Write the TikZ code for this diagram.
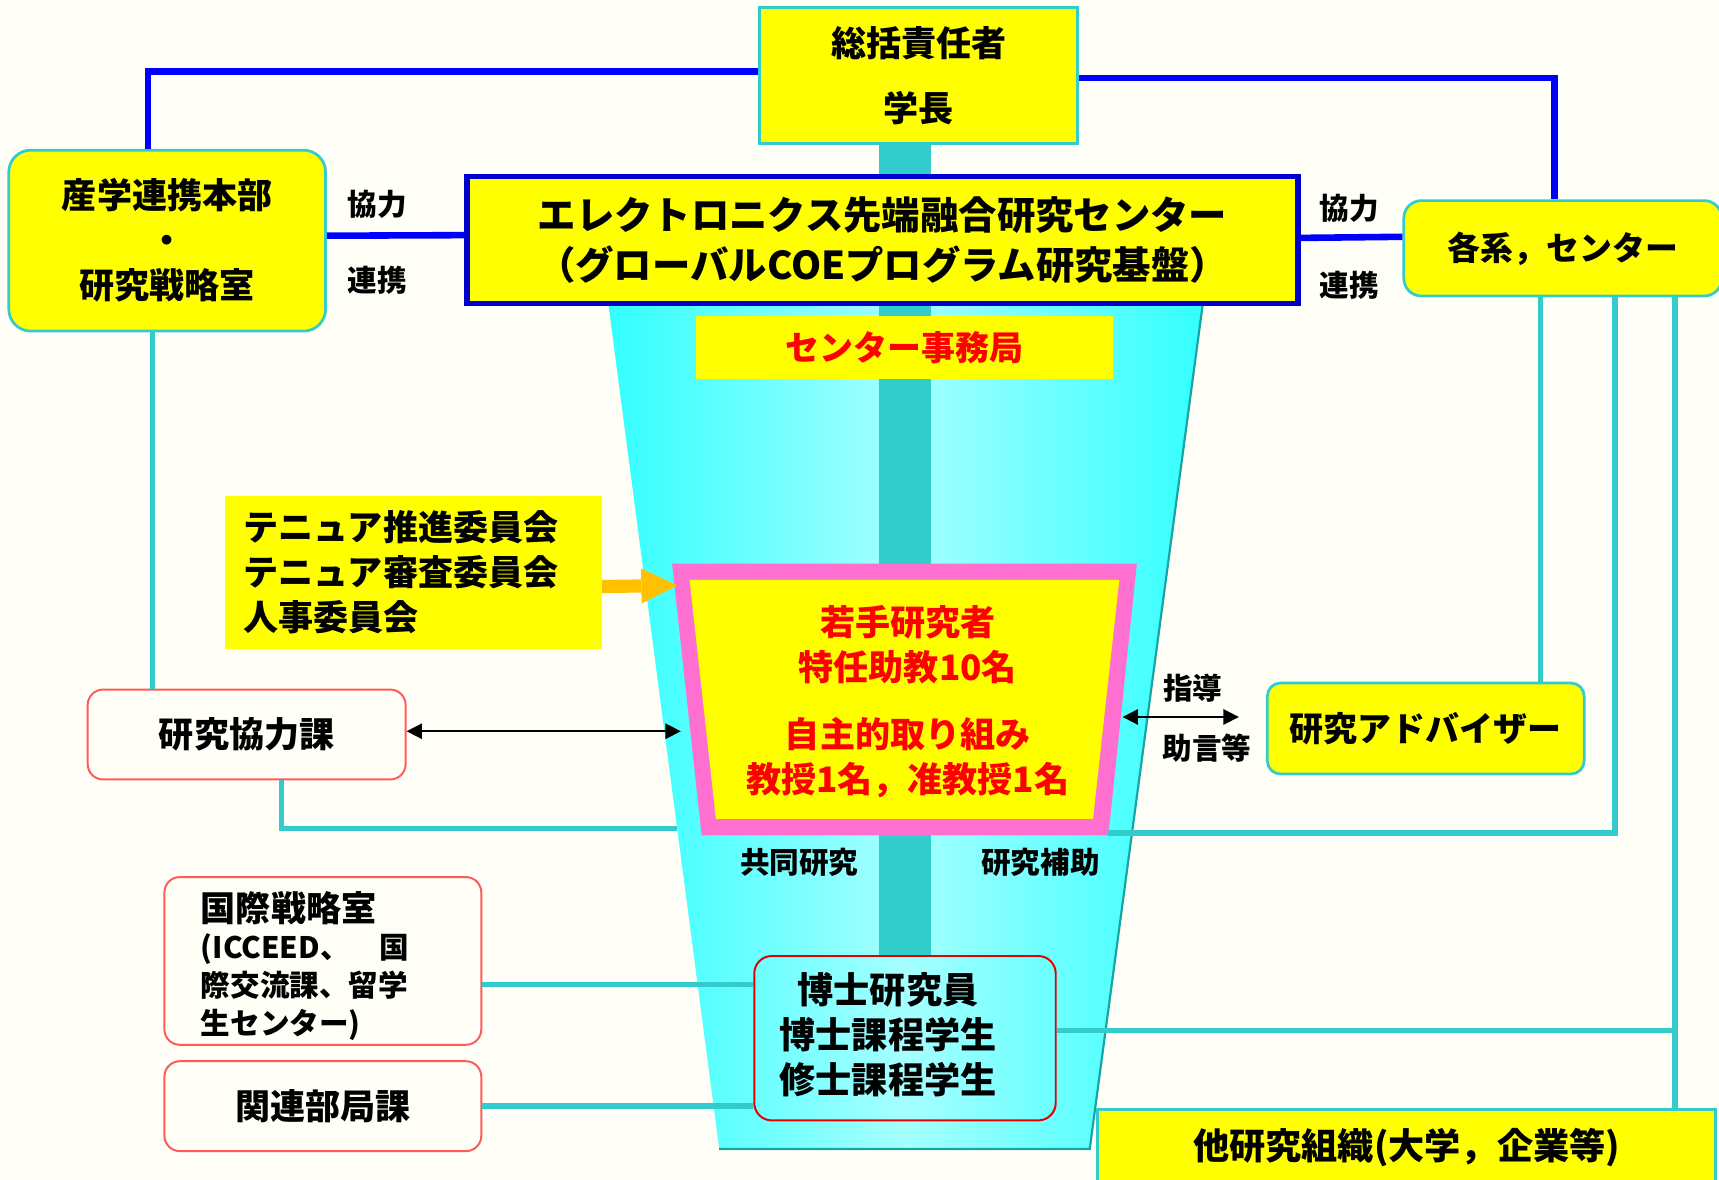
\documentclass[tikz,border=0pt]{standalone}
\usepackage{fontspec}
\setmainfont{Noto Sans CJK JP}
\usetikzlibrary{arrows.meta,calc}
\definecolor{yy}{HTML}{FFFF00}
\definecolor{tl}{HTML}{33CCCC}
\definecolor{bl}{HTML}{0000FF}
\definecolor{bd}{HTML}{0000CC}
\definecolor{pk}{HTML}{FF6FCF}
\definecolor{rd}{HTML}{FF0000}
\definecolor{rb}{HTML}{FF5A5A}
\definecolor{og}{HTML}{FFC000}
\definecolor{bgc}{HTML}{FFFFF7}
\definecolor{cy}{HTML}{33FFFF}
\definecolor{pale}{HTML}{A6FFFF}
\definecolor{dt}{HTML}{1AA3A3}
\newcommand\ff[2]{\fontsize{#1}{#2}\selectfont\bfseries}
\pgfdeclarelayer{bgl}\pgfdeclarelayer{back}\pgfdeclarelayer{mid}
\pgfsetlayers{bgl,back,mid,main}
\begin{document}
\begin{tikzpicture}[x=1pt,y=-1pt,
  ybox/.style={fill=yy, draw=tl, line width=2.5pt, inner sep=0pt, align=center},
  rbox/.style={fill=bgc, draw=rb, line width=1.8pt, rounded corners=14pt, inner sep=0pt, align=center},
  bline/.style={draw=bl, line width=6pt},
  tline/.style={draw=tl, line width=5pt},
  lbl/.style={font=\ff{27}{30}, inner sep=0pt},
  darr/.style={{Triangle[length=14pt,width=14pt]}-{Triangle[length=14pt,width=14pt]}, line width=1.6pt, black},
]
\useasboundingbox (0,0) rectangle (1568,1076);
\clip (0,0) rectangle (1568,1076);
\begin{pgfonlayer}{bgl}
\fill[bgc] (0,0) rectangle (1568,1076);
\end{pgfonlayer}

% funnel and frame coordinates
\coordinate (fTL) at (555,278);
\coordinate (fTR) at (1097,278);
\coordinate (fBR) at (994,1048);
\coordinate (fBL) at (656,1048);
\coordinate (fL) at ($(fTL)!0.6207!(fBL)$);
\coordinate (wTL) at (613,514);
\coordinate (wTR) at (1037,514);
\coordinate (wBR) at (1011,762);
\coordinate (wBL) at (640,762);
\coordinate (iTL) at (629,529);
\coordinate (iTR) at (1021,529);
\coordinate (iBR) at (997,747);
\coordinate (iBL) at (653,747);
\coordinate (wL) at (621,667);
\coordinate (wR) at (1024,654);
\coordinate (advL) at (1130,654);
\coordinate (oTip) at (618,534);

\begin{pgfonlayer}{back}
\shade[left color=cy, right color=cy, middle color=pale] (fTL) -- (fTR) -- (fBR) -- (fBL) -- cycle;
\draw[dt, line width=2pt] (fTR) -- (fBR) -- (fBL);
\end{pgfonlayer}

% nodes
\node[ybox, minimum width=290pt, minimum height=124pt, font=\ff{32}{60}] (sou) at (838,69) {総括責任者\\学長};
\node[ybox, draw=bd, line width=5pt, minimum width=758pt, minimum height=116pt, font=\ff{35}{45}] (center) at (805,219) {エレクトロニクス先端融合研究センター\\（グローバルCOEプログラム研究基盤）};
\node[fill=yy, minimum width=380pt, minimum height=58pt, inner sep=0pt, text=rd, font=\ff{31}{31}] (jim) at (825,317) {センター事務局};
\node[ybox, rounded corners=20pt, minimum width=289pt, minimum height=165pt, font=\ff{32}{41}] (sangaku) at (152.5,219.5) {産学連携本部\\・\\研究戦略室};
\node[ybox, rounded corners=16pt, minimum width=290pt, minimum height=87pt, font=\ff{30}{30}] (kakkei) at (1425.5,226.5) {各系，センター};
\node[ybox, rounded corners=12pt, minimum width=289pt, minimum height=83pt, font=\ff{31}{31}] (adv) at (1300.5,664.5) {研究アドバイザー};
\node[rbox, minimum width=290pt, minimum height=82pt, font=\ff{32}{32}] (kyo) at (225,670) {研究協力課};
\node[fill=yy, minimum width=344pt, minimum height=140pt, inner sep=0pt, text width=310pt, align=left, font=\ff{32}{41}] (ten) at (377,522) {テニュア推進委員会\\テニュア審査委員会\\人事委員会};
\node[rbox, minimum width=289pt, minimum height=153pt] (kok) at (294.5,876.5) {};
\node[anchor=west, inner sep=0pt, font=\ff{32}{32}] (kokT) at (183,828) {国際戦略室};
\node[anchor=west, inner sep=0pt, align=left, font=\ff{27}{34.5}] (kokS) at (183,900.5) {(ICCEED、　国\\際交流課、留学\\生センター)};
\node[rbox, minimum width=289pt, minimum height=82pt, font=\ff{32}{32}] (kan) at (294.5,1009) {関連部局課};
\node[draw=rd!90!black, line width=1.8pt, rounded corners=16pt, minimum width=275pt, minimum height=150pt, inner sep=0pt] (hak) at (825.5,947) {};
\node[align=center, inner sep=0pt, font=\ff{33}{41}] (hakT) at (810,944) {博士研究員\\博士課程学生\\修士課程学生};
\node[ybox, minimum width=564pt, minimum height=90pt] (other) at (1283,1057) {};
\node[inner sep=0pt, font=\ff{33}{33}] (otherT) at (1283,1047) {他研究組織(大学，企業等)};

% central bar
\begin{pgfonlayer}{mid}
\draw[tl, line width=47pt] (hak.north |- sou.south) -- (hak.north);
\end{pgfonlayer}

% young researchers frame
\fill[pk] (wTL) -- (wTR) -- (wBR) -- (wBL) -- cycle;
\fill[yy] (iTL) -- (iTR) -- (iBR) -- (iBL) -- cycle;
\node[align=center, inner sep=0pt, text=rd, font=\ff{32}{41}] (waka) at (828,640) {若手研究者\\特任助教10名\\[20pt]自主的取り組み\\教授1名，准教授1名};

% labels
\node[lbl] (l1) at (344,186) {協力};
\node[lbl] (l2) at (344,256) {連携};
\node[lbl] (l3) at (1231,190) {協力};
\node[lbl] (l4) at (1231,260) {連携};
\node[lbl] (l5) at (1088,628) {指導};
\node[lbl] (l6) at (1101,682) {助言等};
\node[lbl] (l7) at (729,787) {共同研究};
\node[lbl] (l8) at (949,787) {研究補助};

% blue connectors
\draw[bline] ([yshift=4pt]sou.west) -| ([xshift=-17.5pt]sangaku.north);
\draw[bline] ([yshift=-2pt]sou.east) -| ([xshift=-7.5pt]kakkei.north);
\draw[bline] ([yshift=4.5pt]sangaku.east) -- ([yshift=4.5pt]center.west);
\draw[bline] ([yshift=2pt]center.east) -- ([yshift=10.5pt]kakkei.west);

% teal connectors
\draw[tline] ([xshift=-13.5pt]sangaku.south) coordinate (s1) -- (s1 |- kyo.north);
\draw[tline] ([xshift=32pt]kyo.south) |- (fL);
\draw[tline] ([xshift=-20.5pt]kakkei.south) coordinate (k1) -- (k1 |- adv.north);
\draw[tline] ([xshift=47.5pt]kakkei.south) |- ([yshift=2pt]wBR);
\draw[tline] ([xshift=102.5pt]kakkei.south) coordinate (k3) -- (k3 |- other.north);
\draw[tline] ([yshift=7pt]hak.east) coordinate (h1) -- (h1 -| k3);
\draw[tline] ([yshift=-21.5pt]kok.east) coordinate (q1) -- (q1 -| hak.west);
\draw[tline] (kan.east) -- (kan.east -| hak.west);

% arrows
\draw[darr] ([yshift=3pt]kyo.east) -- (wL);
\draw[darr] (wR) -- (advL);
\draw[og, line width=12pt, -{Triangle[length=33pt,width=32pt,line width=0pt]}] ([yshift=-13pt]ten.east) -- (oTip);
\end{tikzpicture}
\end{document}
